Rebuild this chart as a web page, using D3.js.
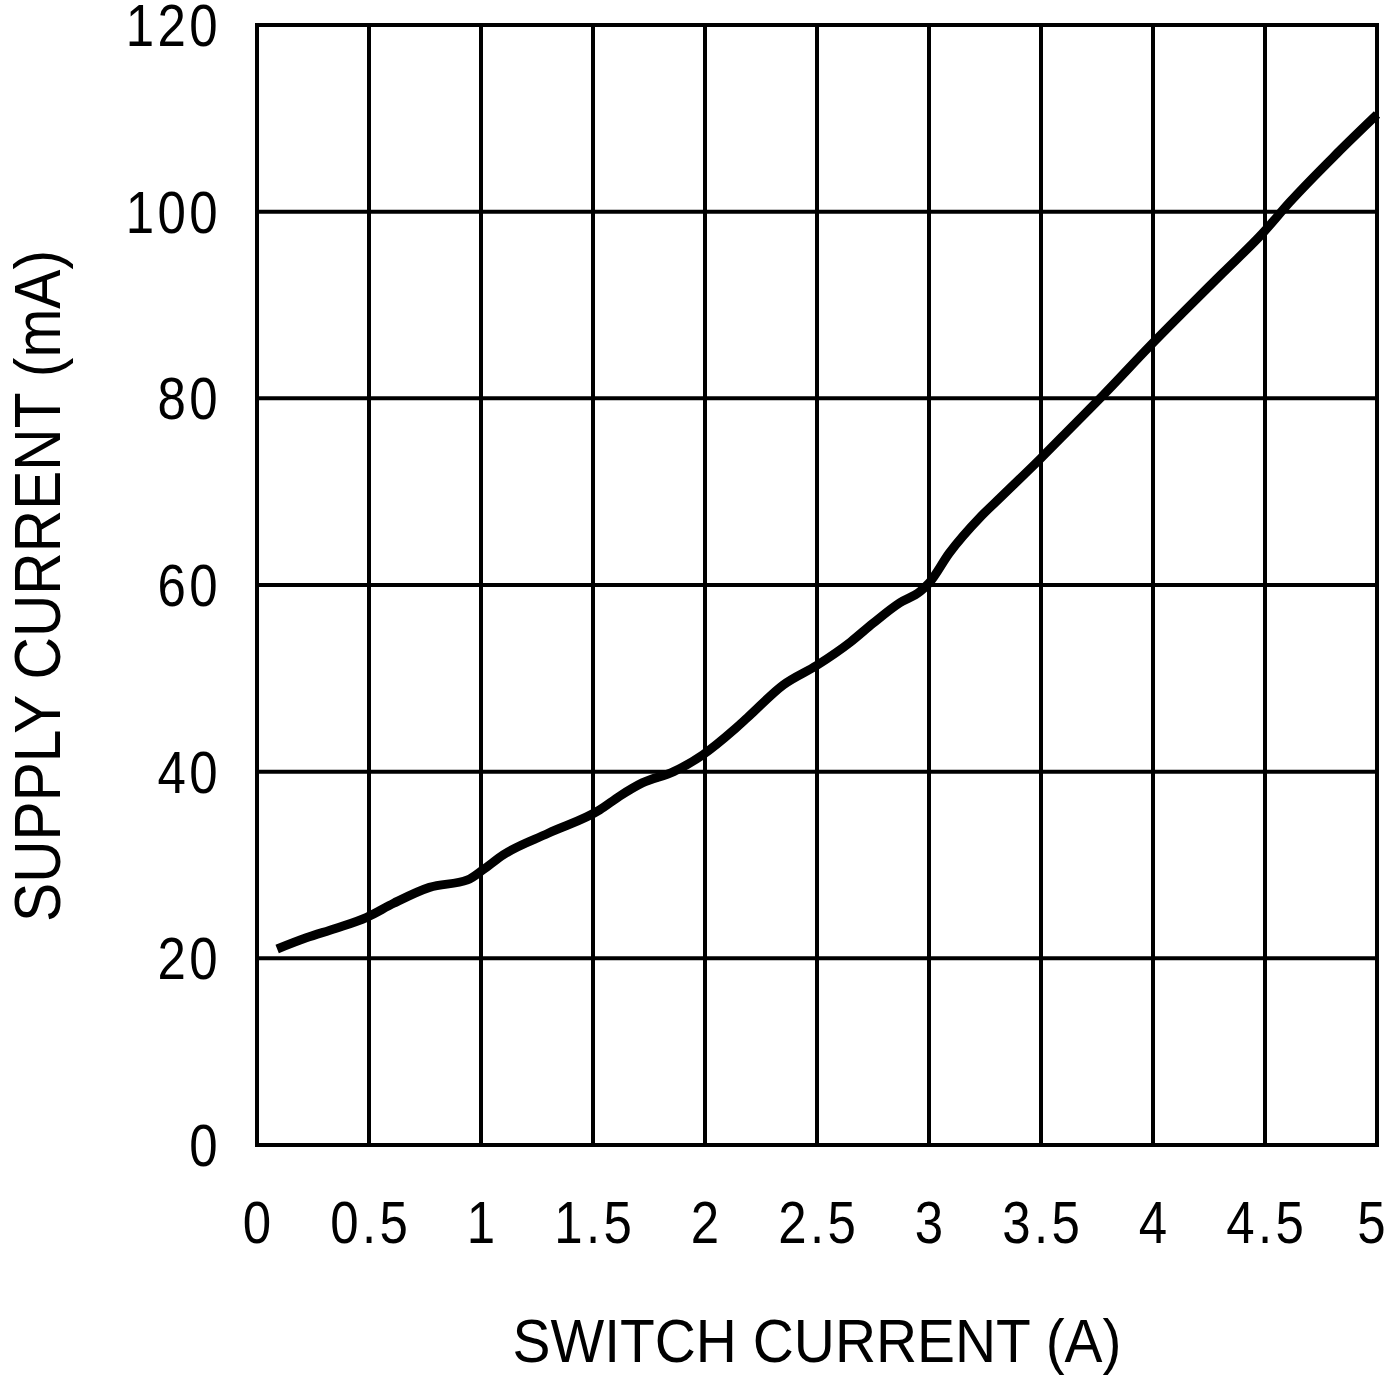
<!DOCTYPE html>
<html>
<head>
<meta charset="utf-8">
<script src="https://cdn.jsdelivr.net/npm/d3@7"></script>
<style>
  html, body { margin: 0; padding: 0; background: #fff; }
  svg { display: block; }
  text { font-family: "Liberation Sans", Arial, sans-serif; fill: #000; }
</style>
</head>
<body>
<script>
// ---- Data ----
const switchCurrent = [0.09, 0.22, 0.35, 0.49, 0.61, 0.77, 0.94, 1.01, 1.10, 1.30, 1.53, 1.62, 1.72, 1.86, 1.99, 2.13, 2.19, 2.35, 2.50, 2.65, 2.75, 2.87, 2.96, 3.00, 3.09, 3.23, 3.32, 3.50, 3.64, 3.78, 3.99, 4.13, 4.31, 4.49, 4.61, 4.82, 5.00];
const supplyCurrent = [21.0, 22.2, 23.2, 24.4, 25.9, 27.6, 28.4, 29.5, 31.1, 33.4, 35.9, 37.4, 38.8, 40.0, 41.8, 44.5, 45.8, 49.3, 51.4, 53.9, 55.9, 58.1, 59.3, 60.2, 63.4, 67.3, 69.4, 73.6, 77.0, 80.4, 85.7, 89.1, 93.4, 97.7, 101.0, 106.2, 110.4];
const xTicks = [0, 0.5, 1, 1.5, 2, 2.5, 3, 3.5, 4, 4.5, 5];
const xTickLabels = ["0", "0.5", "1", "1.5", "2", "2.5", "3", "3.5", "4", "4.5", "5"];
const yTicks = [0, 20, 40, 60, 80, 100, 120];
const yTickLabels = ["0", "20", "40", "60", "80", "100", "120"];
const xTitle = "SWITCH CURRENT (A)";
const yTitle = "SUPPLY CURRENT (mA)";

// ---- Layout ----
const W = 1390, H = 1375;
const mLeft = 257, mRight = 1377, mTop = 25, mBottom = 1145;

const svg = d3.select("body").append("svg").attr("width", W).attr("height", H);

const x = d3.scaleLinear().domain([0, 5]).range([mLeft, mRight]);
const y = d3.scaleLinear().domain([0, 120]).range([mBottom, mTop]);

// grid
const grid = svg.append("g").attr("stroke", "#000").attr("stroke-width", 4);
grid.selectAll("line.v").data(xTicks).join("line").attr("class", "v")
  .attr("x1", d => x(d)).attr("x2", d => x(d))
  .attr("y1", mTop - 2).attr("y2", mBottom + 2);
grid.selectAll("line.h").data(yTicks).join("line").attr("class", "h")
  .attr("y1", d => y(d)).attr("y2", d => y(d))
  .attr("x1", mLeft - 2).attr("x2", mRight + 2);

// tick labels (slightly condensed glyphs, wider spacing)
const sx = 0.85, ls = 4;
const xLab = svg.append("g").selectAll("text").data(xTicks).join("text")
  .attr("text-anchor", "middle").attr("font-size", 60)
  .attr("letter-spacing", ls)
  .text((d, i) => xTickLabels[i]);
xLab.each(function(d) {
  const w = this.getComputedTextLength() * sx;
  let cx = x(d) + ls * sx / 2;
  if (cx + w / 2 > W - 1) cx = W - 1 - w / 2;
  d3.select(this).attr("transform", `translate(${cx},1243) scale(${sx},1)`);
});

svg.append("g").selectAll("text").data(yTicks).join("text")
  .attr("transform", d => `translate(221,${y(d) + 21}) scale(${sx},1)`)
  .attr("text-anchor", "end").attr("font-size", 60)
  .attr("letter-spacing", ls)
  .text((d, i) => yTickLabels[i]);

// axis titles
svg.append("text")
  .attr("x", 817).attr("y", 1362)
  .attr("text-anchor", "middle").attr("font-size", 61)
  .attr("textLength", 609).attr("lengthAdjust", "spacingAndGlyphs")
  .text(xTitle);

svg.append("text")
  .attr("transform", "translate(60,586) rotate(-90)")
  .attr("text-anchor", "middle").attr("font-size", 64)
  .attr("textLength", 672).attr("lengthAdjust", "spacingAndGlyphs")
  .text(yTitle);

// curve
const pts = switchCurrent.map((v, i) => [v, supplyCurrent[i]]);
const line = d3.line().x(d => x(d[0])).y(d => y(d[1])).curve(d3.curveMonotoneX);
svg.append("path").datum(pts)
  .attr("d", line)
  .attr("fill", "none").attr("stroke", "#000")
  .attr("stroke-width", 9).attr("stroke-linejoin", "round");
</script>
</body>
</html>
